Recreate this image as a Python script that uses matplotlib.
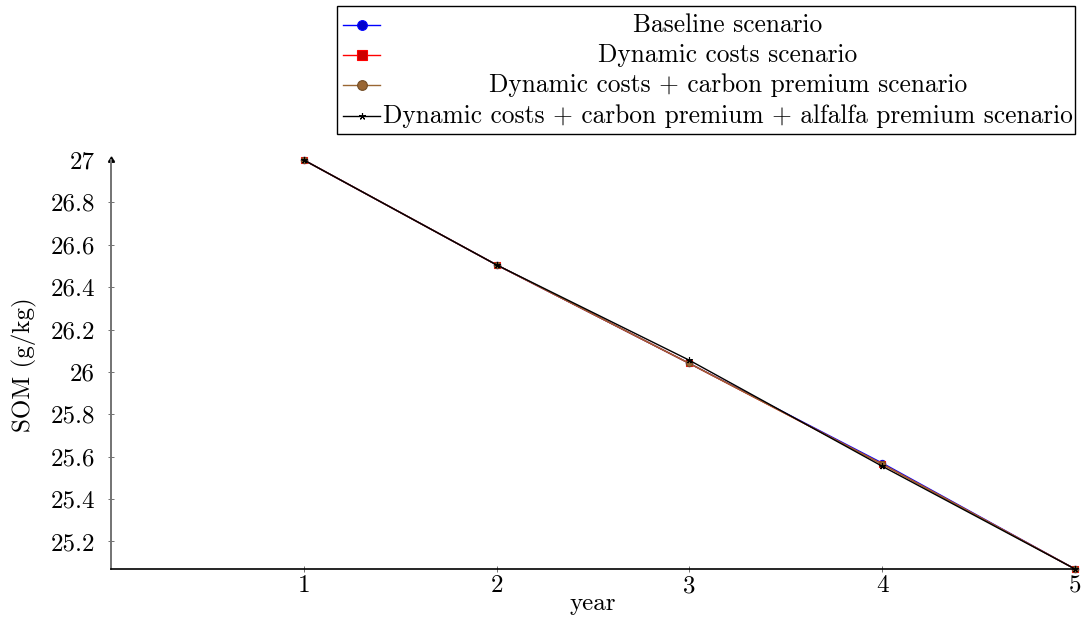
import matplotlib.pyplot as plt
from matplotlib.lines import Line2D
from matplotlib.patches import Rectangle
from matplotlib.ticker import FormatStrFormatter

plt.rcParams['font.family'] = ['cmr10', 'DejaVu Serif']
plt.rcParams['axes.unicode_minus'] = False
plt.rcParams['mathtext.fontset'] = 'cm'

years = [1, 2, 3, 4, 5]
baseline = [27.0, 26.505, 26.04, 25.57, 25.07]
dyn_costs = [27.0, 26.505, 26.04, 25.565, 25.07]
dyn_carbon = [27.0, 26.505, 26.04, 25.565, 25.07]
dyn_carbon_alfalfa = [27.0, 26.505, 26.055, 25.555, 25.07]

labels = ["Baseline scenario",
          "Dynamic costs scenario",
          "Dynamic costs + carbon premium scenario",
          "Dynamic costs + carbon premium + alfalfa premium scenario"]
yticks = [25.2, 25.4, 25.6, 25.8, 26, 26.2, 26.4, 26.6, 26.8, 27]

# pgfplots default cycle: line colour, marker, marker fill
styles = [
    dict(color=(0, 0, 1), marker='o', mfc=(0, 0, 0.8), mec=(0, 0, 1)),
    dict(color=(1, 0, 0), marker='s', mfc=(0.8, 0, 0), mec=(1, 0, 0)),
    dict(color=(0.6, 0.4, 0.2), marker='o', mfc=(0.6, 0.4, 0.2), mec=(0.45, 0.3, 0.15)),
    dict(color=(0, 0, 0), marker=(5, 2, 0), mfc=(0, 0, 0), mec=(0, 0, 0)),
]
series = [baseline, dyn_costs, dyn_carbon, dyn_carbon_alfalfa]

fig = plt.figure(figsize=(10.83, 6.17), dpi=100)
ax = fig.add_axes([111 / 1083, 1 - 569 / 617, (1075 - 111) / 1083, (569 - 160) / 617])

for vals, st in zip(series, styles):
    ax.plot(years, vals, lw=1.0, ms=4.5, mew=0.8, clip_on=False, **st)

ax.set_xlim(0, 5)
ax.set_ylim(25.07, 27.0)
ax.set_xticks(years)
ax.set_yticks(yticks)
ax.yaxis.set_major_formatter(FormatStrFormatter('%g'))
ax.spines['top'].set_visible(False)
ax.spines['right'].set_visible(False)
ax.spines['left'].set_color('0.45')
ax.spines['left'].set_linewidth(1.4)
ax.spines['bottom'].set_linewidth(1.2)
ax.tick_params(direction='inout', length=5, width=0.6, labelsize=18, color='0.35')
ax.tick_params(axis='y', pad=9)
ax.tick_params(axis='x', pad=2)
ax.plot([0], [1], marker=(3, 0, 0), ms=5, color='black', transform=ax.transAxes, clip_on=False)

ax.set_xlabel("year", fontsize=18)
ax.xaxis.set_label_coords(0.5, -0.058)
ax.set_ylabel("SOM (g/kg)", fontsize=18, labelpad=10)

# legend box drawn by hand so entries are centred like pgfplots
W, H = 1083, 617
fig.add_artist(Rectangle((337 / W, 1 - 134 / H), (1075 - 337) / W, (134 - 6) / H,
                         transform=fig.transFigure, fill=False, lw=1.0, ec='black'))
rows = [25, 55, 85, 116]
for lab, st, r in zip(labels, styles, rows):
    yy = 1 - r / H
    fig.add_artist(Line2D([343 / W, 380 / W], [yy, yy], transform=fig.transFigure,
                          lw=1.0, color=st['color']))
    fig.add_artist(Line2D([362 / W], [yy], transform=fig.transFigure, ms=7 if st['marker'] != (5, 2, 0) else 5,
                          marker=st['marker'], mfc=st['mfc'], mec=st['mec'], mew=0.8, lw=0))
    fig.text(728 / W, yy, lab, ha='center', va='center', fontsize=18.3)

fig.savefig("out.png", dpi=100)
